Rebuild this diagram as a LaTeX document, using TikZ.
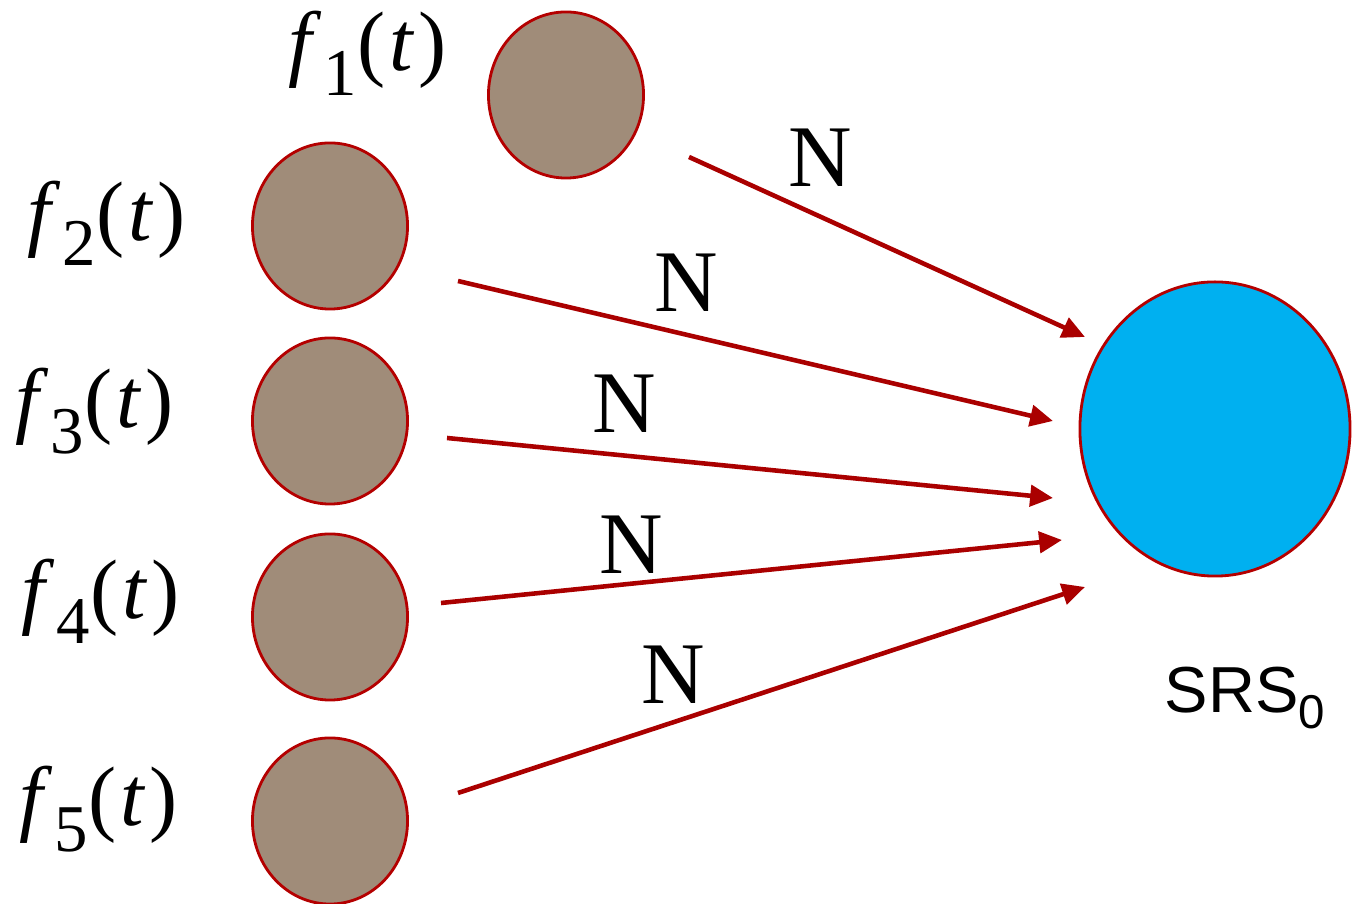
\documentclass[tikz,border=0pt]{standalone}
\usepackage{fontspec}
\setmainfont{Liberation Serif}
\setsansfont{Liberation Sans}
\usetikzlibrary{shapes.geometric,arrows.meta}
\definecolor{srcfill}{RGB}{160,140,121}
\definecolor{edge}{RGB}{180,0,0}
\definecolor{arr}{RGB}{170,0,0}
\definecolor{sink}{RGB}{0,176,240}
\newcommand{\flab}[1]{\fontsize{24}{28}\selectfont\textit{f}\kern0.02em\raisebox{-0.3em}{\fontsize{19}{20}\selectfont #1}(\kern0.05em\textit{t}\kern0.05em)}
\tikzset{
  src/.style={ellipse,draw=edge,line width=0.8pt,fill=srcfill,minimum width=1.55cm,minimum height=1.66cm,inner sep=0pt},
  snk/.style={ellipse,draw=edge,line width=0.8pt,fill=sink,minimum width=2.7cm,minimum height=2.94cm,inner sep=0pt},
  conn/.style={draw=arr,line width=1.3pt,-{Triangle[length=6.5pt,width=6pt]}},
  nlab/.style={font=\fontsize{25}{28}\selectfont},
  flabel/.style={inner sep=0pt}
}
\begin{document}
\begin{tikzpicture}[x=0.01cm,y=-0.01cm]
\useasboundingbox (0,0) rectangle (1356,904);
\node[src] (c1) at (566,95) {};
\node[src] (c2) at (330,226) {};
\node[src] (c3) at (330,421) {};
\node[src] (c4) at (330,617) {};
\node[src] (c5) at (330,821) {};
\node[snk] (sk) at (1215,429) {};
\node[flabel] (l1) at (368,53) {\flab{1}};
\node[flabel] (l2) at (107,223) {\flab{2}};
\node[flabel] (l3) at (95,411) {\flab{3}};
\node[flabel] (l4) at (101,601) {\flab{4}};
\node[flabel] (l5) at (99,809) {\flab{5}};
\node[font=\sffamily\fontsize{18.5}{20}\selectfont,inner sep=0pt] (srs) at (1245,698) {SRS\raisebox{-0.25em}{\fontsize{13.5}{15}\selectfont 0}};
\coordinate (s1) at (689,157); \coordinate (e1) at (1085,337);
\coordinate (s2) at (458,281); \coordinate (e2) at (1053,421);
\coordinate (s3) at (447,438); \coordinate (e3) at (1053,498);
\coordinate (s4) at (441,603); \coordinate (e4) at (1062,540);
\coordinate (s5) at (458,793); \coordinate (e5) at (1085,587);
\draw[conn] (s1) -- (e1);
\draw[conn] (s2) -- (e2);
\draw[conn] (s3) -- (e3);
\draw[conn] (s4) -- (e4);
\draw[conn] (s5) -- (e5);
\node[nlab] (n1) at (820,158) {N};
\node[nlab] (n2) at (686,283) {N};
\node[nlab] (n3) at (624,404) {N};
\node[nlab] (n4) at (631,545) {N};
\node[nlab] (n5) at (673,675) {N};
\end{tikzpicture}
\end{document}
